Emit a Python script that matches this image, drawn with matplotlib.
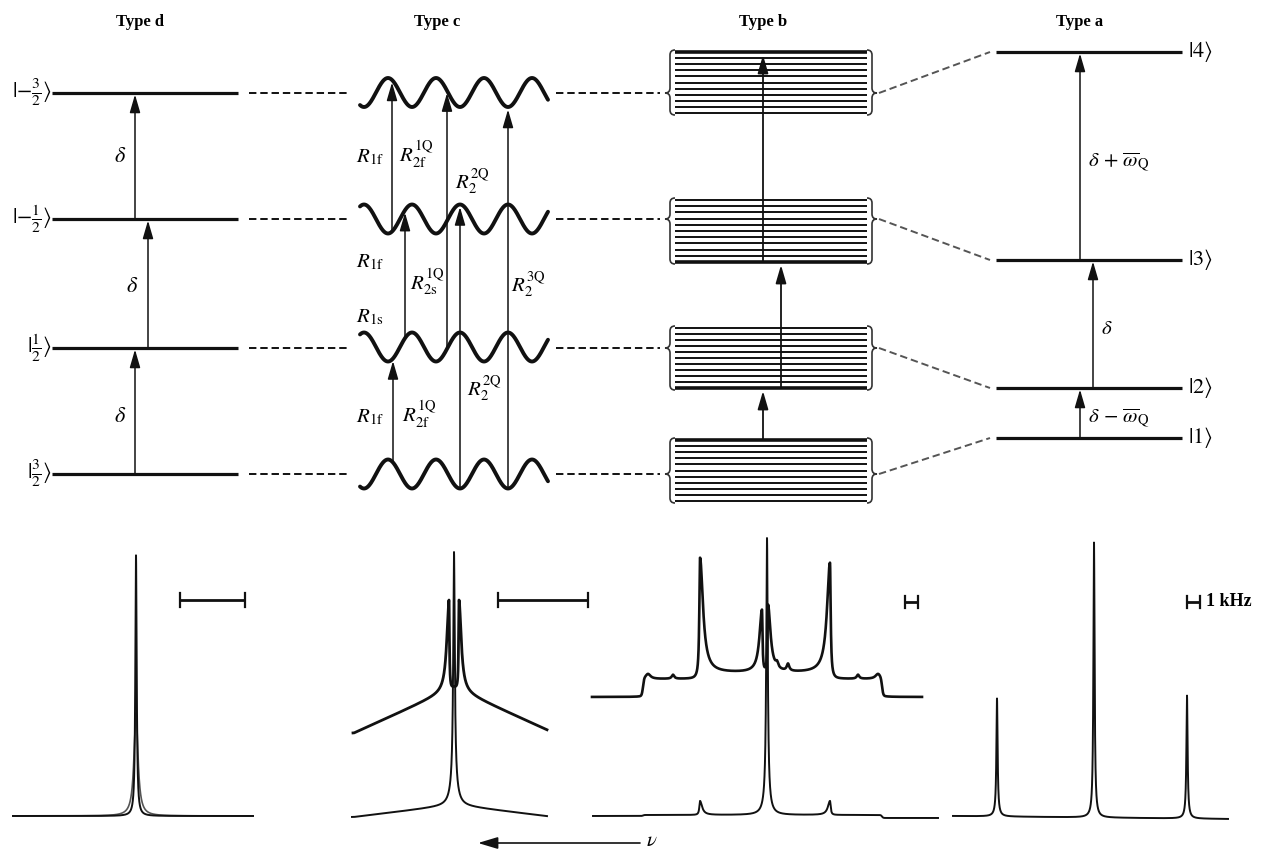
import numpy as np
import matplotlib
matplotlib.use('Agg')
import matplotlib.pyplot as plt
from matplotlib.path import Path
from matplotlib.patches import PathPatch

plt.rcParams['font.family'] = ['Liberation Serif', 'DejaVu Serif']
plt.rcParams['mathtext.fontset'] = 'stix'

# ------------------------------------------------------------------ data
panel_titles = ['Type d', 'Type c', 'Type b', 'Type a']

# energy levels (pixel rows, top to bottom)
d_levels = [93, 219, 348, 474]
d_level_labels = [r'$|{-}\frac{3}{2}\rangle$', r'$|{-}\frac{1}{2}\rangle$',
                  r'$|\frac{1}{2}\rangle$', r'$|\frac{3}{2}\rangle$']
d_arrows = [(135, 3, 2), (148, 2, 1), (135, 1, 0)]          # x, from, to
d_arrow_text = [r'$\delta$', r'$\delta$', r'$\delta$']

c_wave_sign = [-1, 1, 1, -1]
c_arrows = [(392, 1, 0), (447, 2, 0), (508, 3, 0),
            (405, 2, 1), (460, 3, 1), (393, 3, 2)]
c_texts = [r'$R_{1\mathrm{f}}$', r'$R_{2\mathrm{f}}^{1\mathrm{Q}}$', r'$R_{2}^{2\mathrm{Q}}$',
           r'$R_{1\mathrm{f}}$', r'$R_{2\mathrm{s}}^{1\mathrm{Q}}$', r'$R_{2}^{3\mathrm{Q}}$',
           r'$R_{1\mathrm{s}}$', r'$R_{2}^{2\mathrm{Q}}$',
           r'$R_{1\mathrm{f}}$', r'$R_{2\mathrm{f}}^{1\mathrm{Q}}$']

b_box_top = [52, 200, 328, 440]
b_box_bottom = [113, 262, 388, 501]
b_thick_edge = ['top', 'bottom', 'bottom', 'top']
b_arrows = [(763, 440, 388), (781, 388, 262), (763, 262, 52)]

a_levels = [52, 260, 388, 438]
a_level_labels = [r'$|4\rangle$', r'$|3\rangle$', r'$|2\rangle$', r'$|1\rangle$']
a_arrows = [(1080, 3, 2), (1093, 2, 1), (1080, 1, 0)]
a_arrow_text = [r'$\delta\,-\,\overline{\omega}_{\mathrm{Q}}$', r'$\delta$',
                r'$\delta\,+\,\overline{\omega}_{\mathrm{Q}}$']

# spectra: peaks as (position, height, left width, right width)
spec_d_narrow = [(136, 261, 0.8, 0.8)]
spec_d_broad = [(136, 103, 2.4, 2.4)]

spec_c_lower_peaks = [(454, 228, 0.9, 0.9), (454, 25, 3.5, 3.5)]
spec_c_upper_peaks = [(449, 90, 2.6, 0.5), (459, 90, 0.5, 2.6)]

spec_b_upper_peaks = [(700, 118, 0.8, 3.5), (830, 113, 3.5, 0.8),
                      (762, 62, 3.0, 0.6), (768, 67, 0.6, 3.0),
                      (648, 5, 3.0, 3.0), (878, 5, 3.0, 3.0),
                      (673, 4, 1.5, 1.5), (777, 5, 1.5, 1.5),
                      (788, 7, 1.5, 1.5), (858, 4, 1.5, 1.5)]
spec_b_lower_peaks = [(700, 14, 0.8, 2.5), (830, 14, 2.5, 0.8),
                      (767, 264, 0.9, 0.9), (767, 13, 3.5, 3.5)]

spec_a_peaks = [(997, 114, 0.7, 0.7), (997, 4, 2.5, 2.5),
                (1094, 271, 0.7, 0.7), (1094, 4, 2.5, 2.5),
                (1187, 119, 0.7, 0.7), (1187, 4, 2.5, 2.5)]

# ------------------------------------------------------------------ figure
fig = plt.figure(figsize=(12.7, 8.52), dpi=100)
ax = fig.add_axes([0, 0, 1, 1])
ax.set_xlim(0, 1270)
ax.set_ylim(852, 0)
ax.axis('off')

K = '#111111'
LEVEL_LW = 2.3
ARROW_LW = 1.1


def arrow(x, y0, y1, lw=ARROW_LW):
    ax.annotate('', xy=(x, y1), xytext=(x, y0),
                arrowprops=dict(arrowstyle='-|>,head_length=0.55,head_width=0.16',
                                lw=lw, color=K, shrinkA=0, shrinkB=0,
                                mutation_scale=20))


def lor(x, peaks):
    s = np.zeros_like(x)
    for x0, h, wl, wr in peaks:
        w = np.where(x < x0, wl, wr)
        s += h * w ** 2 / ((x - x0) ** 2 + w ** 2)
    return s


def step(x, x0, s=1.2):
    return 0.5 * (1 + np.tanh((x - x0) / s))


def brace(x, y0, y1, ytip, d):
    e = 5
    verts = [(x - d * e, y0), (x, y0), (x, y0 + e),
             (x, ytip - e), (x, ytip), (x + d * e, ytip),
             (x, ytip), (x, ytip + e),
             (x, y1 - e), (x, y1), (x - d * e, y1)]
    codes = [Path.MOVETO, Path.CURVE3, Path.CURVE3, Path.LINETO,
             Path.CURVE3, Path.CURVE3, Path.CURVE3, Path.CURVE3,
             Path.LINETO, Path.CURVE3, Path.CURVE3]
    ax.add_patch(PathPatch(Path(verts, codes), fill=False, lw=1.2, ec='#333333'))


# titles
for t, x in zip(panel_titles, [140, 437, 763, 1080]):
    ax.text(x, 22, t, ha='center', va='center', fontsize=12, fontweight='bold')

# ---------------- Type d
for y, lab in zip(d_levels, d_level_labels):
    ax.plot([52, 238], [y, y], color=K, lw=LEVEL_LW, solid_capstyle='butt')
    ax.text(51, y, lab, ha='right', va='center', fontsize=16)
for x, i, j in d_arrows:
    arrow(x, d_levels[i], d_levels[j] + 1.5)
for t, pos in zip(d_arrow_text, [(120, 418), (132, 287), (120, 157)]):
    ax.text(pos[0], pos[1], t, ha='center', va='center', fontsize=16)

# dashed connectors d -> c and c -> b
for y in d_levels:
    ax.plot([249, 350], [y, y], color=K, lw=1.4, dashes=(3.8, 2.0))
    ax.plot([556, 660], [y, y], color=K, lw=1.4, dashes=(3.8, 2.0))

# ---------------- Type c
P = 48.0
A = 14.5
c_centers = [92.5, 219, 347, 474]


def wave(x, k):
    return c_centers[k] + c_wave_sign[k] * A * np.cos(2 * np.pi * (x - 388) / P)


xw = np.linspace(360, 548, 600)
for k in range(4):
    ax.plot(xw, wave(xw, k), color=K, lw=2.8, solid_capstyle='round')
for x, i, j in c_arrows:
    arrow(x, wave(x, i), wave(x, j) + 2.5)
c_pos = [(370, 157), (416, 154), (472, 182), (370, 262), (427, 282), (528, 285),
         (370, 317), (484, 389), (370, 417), (419, 414)]
for t, (x, y) in zip(c_texts, c_pos):
    ax.text(x, y, t, ha='center', va='center', fontsize=15)

# ---------------- Type b
for k in range(4):
    top, bot = b_box_top[k], b_box_bottom[k]
    ys = np.linspace(top, bot, 11)
    for n, y in enumerate(ys):
        thick = (b_thick_edge[k] == 'top' and n == 0) or (b_thick_edge[k] == 'bottom' and n == 10)
        ax.plot([675, 867], [y, y], color=K, lw=2.6 if thick else 1.4, solid_capstyle='butt')
    brace(670, top - 2, bot + 2, d_levels[k], -1)
    brace(872, top - 2, bot + 2, d_levels[k], 1)
for x, y0, y1 in b_arrows:
    arrow(x, y0, y1 + 3, lw=1.3)

# connectors b -> a
for k in range(4):
    ax.plot([879, 990], [d_levels[k], a_levels[k]], color='#555555', lw=1.4, dashes=(3.8, 2.0))

# ---------------- Type a
for y, lab in zip(a_levels, a_level_labels):
    ax.plot([996, 1182], [y, y], color=K, lw=LEVEL_LW, solid_capstyle='butt')
    ax.text(1188, y, lab, ha='left', va='center', fontsize=16)
for x, i, j in a_arrows:
    arrow(x, a_levels[i], a_levels[j] + 1.5)
for t, (x, y) in zip(a_arrow_text, [(1088, 418), (1107, 330), (1088, 162)]):
    ax.text(x, y, t, ha='left' if t != r'$\delta$' else 'center', va='center', fontsize=15)

# ---------------- spectra
SLW = 1.2
# type d
x = np.linspace(13, 253, 4000)
ax.plot(x, 816 - lor(x, spec_d_broad), color='#555555', lw=SLW)
ax.plot(x, 816 - lor(x, spec_d_narrow), color=K, lw=SLW + 0.2)

# type c
x = np.linspace(352, 547, 4000)
tent = np.clip(1 - np.abs(x - 454) / 100, 0, None)
ax.plot(x, 817 - 12 * tent - lor(x, spec_c_lower_peaks), color=K, lw=SLW + 0.2)
x = np.linspace(353, 547, 4000)
tent = np.clip(1 - np.abs(x - 454) / 100, 0, None)
ax.plot(x, 733 - 45 * tent - lor(x, spec_c_upper_peaks), color=K, lw=2.0)

# type b
x = np.linspace(592, 922, 5000)
plateau = 18 * (step(x, 643) - step(x, 882)) + 6 * (step(x, 700, 3) - step(x, 830, 3))
ax.plot(x, 697 - plateau - lor(x, spec_b_upper_peaks), color=K, lw=1.9)
x = np.linspace(593, 938, 5000)
ax.plot(x, 816 - 1 * step(x, 643) + 3 * step(x, 882) - lor(x, spec_b_lower_peaks),
        color=K, lw=SLW + 0.2)

# type a
x = np.linspace(953, 1228, 5000)
ax.plot(x, 816 + 3 * (x - 953) / 275 - lor(x, spec_a_peaks), color=K, lw=SLW + 0.2)

# scale bars
for x0, x1, y in [(180, 245, 600), (498, 588, 600), (905, 918, 602), (1187, 1200, 602)]:
    h = 7 if x1 - x0 > 20 else 6
    ax.plot([x0, x1], [y, y], color=K, lw=2.0, solid_capstyle='butt')
    ax.plot([x0, x0], [y - h, y + h], color=K, lw=1.6)
    ax.plot([x1, x1], [y - h, y + h], color=K, lw=1.6)
ax.text(1206, 602, '1 kHz', ha='left', va='center', fontsize=13, fontweight='bold')

# frequency arrow
ax.annotate('', xy=(478, 843), xytext=(640, 843),
            arrowprops=dict(arrowstyle='-|>,head_length=0.6,head_width=0.18',
                            lw=1.2, color=K, shrinkA=0, shrinkB=0, mutation_scale=20))
ax.text(652, 841, r'$\nu$', ha='center', va='center', fontsize=15)

fig.savefig('out.png', dpi=100)
